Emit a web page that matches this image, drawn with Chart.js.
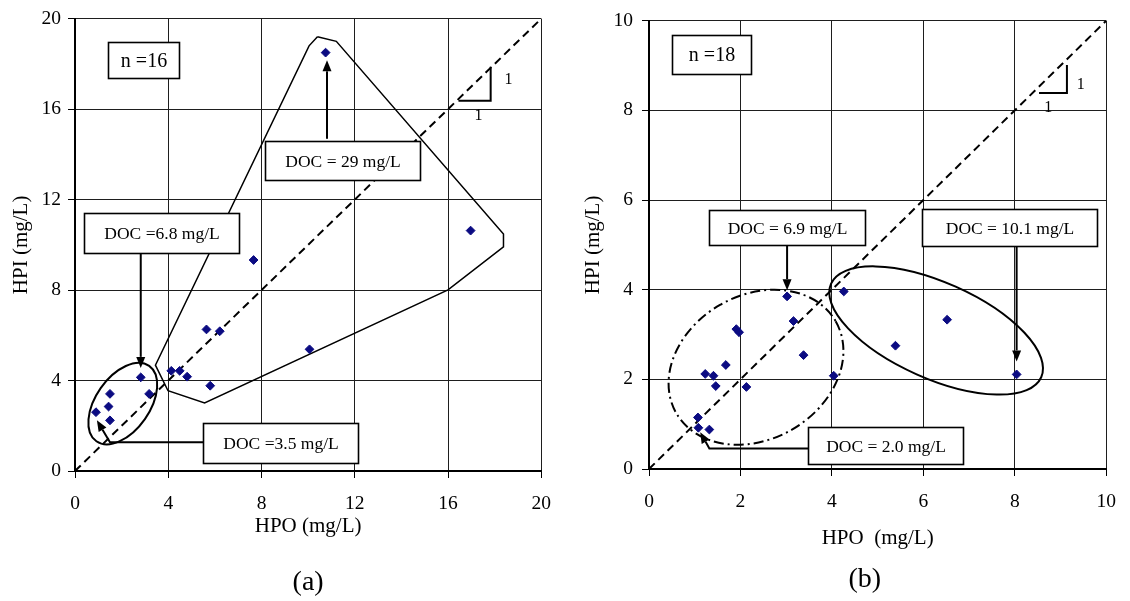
<!DOCTYPE html>
<html>
<head>
<meta charset="utf-8">
<title>HPI vs HPO</title>
<script src="https://cdn.jsdelivr.net/npm/chart.js@4.4.1/dist/chart.umd.min.js"></script>
<style>
  html, body { margin: 0; padding: 0; background: #fff; }
  .panel { position: absolute; top: 0; width: 565px; height: 601px; }
  #panelA { left: 0; }
  #panelB { left: 565px; }
</style>
</head>
<body>
<div class="panel" id="panelA"><canvas id="chartA"></canvas></div>
<div class="panel" id="panelB"><canvas id="chartB"></canvas></div>

<script>
const SERIF = "'Liberation Serif', 'Times New Roman', serif";
const NAVY = '#0b0b82';

// panel (a): 16 samples
const hpoA = [10.75, 16.97, 7.66, 10.06, 5.64, 6.21, 4.13, 4.49, 4.81, 5.80, 2.82, 3.18, 1.50, 1.44, 0.90, 1.50];
const hpiA = [18.50, 10.63, 9.33, 5.38, 6.26, 6.18, 4.43, 4.43, 4.17, 3.77, 4.14, 3.41, 3.41, 2.85, 2.60, 2.24];
const ticksA = [0, 4, 8, 12, 16, 20];

// envelope drawn round the high-DOC group in (a)
const envelopeHpoA = [10.40, 11.21, 18.38, 18.38, 16.00, 5.56, 3.99, 3.45, 10.04, 10.40];
const envelopeHpiA = [19.20, 19.00, 10.48, 9.91, 8.01, 3.01, 3.55, 4.68, 18.80, 19.20];

// panel (b): 18 samples
const hpoB = [3.02, 3.16, 1.91, 1.97, 3.38, 1.68, 1.23, 1.41, 1.46, 2.13, 4.04, 4.26, 1.07, 1.08, 1.32, 5.39, 6.52, 8.04];
const hpiB = [3.85, 3.30, 3.12, 3.05, 2.54, 2.32, 2.12, 2.08, 1.85, 1.83, 2.08, 3.96, 1.15, 0.92, 0.88, 2.75, 3.33, 2.11];
const ticksB = [0, 2, 4, 6, 8, 10];

// call-outs, arrows and ellipses (positions in axis units, ellipse radii in px)
const notesA = {
  boxes: [
    { text: 'n =16', x1: 1.41, x2: 4.44, y1: 18.95, y2: 17.37, size: 20 },
    { text: 'DOC = 29 mg/L', x1: 8.16, x2: 14.79, y1: 14.61, y2: 12.89, size: 17.5 },
    { text: 'DOC =6.8 mg/L', x1: 0.38, x2: 7.01, y1: 11.40, y2: 9.65, size: 17.5 },
    { text: 'DOC =3.5 mg/L', x1: 5.51, x2: 12.14, y1: 2.11, y2: 0.35, size: 17.5 }
  ],
  arrows: [
    [[10.81, 14.69], [10.81, 18.16]],
    [[2.82, 9.65], [2.82, 4.56]],
    [[5.51, 1.27], [1.50, 1.27], [0.94, 2.24]]
  ],
  ellipses: [
    { cx: 2.05, cy: 2.98, rx: 46, ry: 27, angle: -55, dash: [] }
  ],
  slope: { pts: [[16.45, 16.37], [17.83, 16.37], [17.83, 17.88]], labels: [[18.59, 17.28], [17.31, 15.70]] },
  caption: { text: '(a)', x: 10, py: 583 }
};

const notesB = {
  boxes: [
    { text: 'n =18', x1: 0.51, x2: 2.23, y1: 9.69, y2: 8.82, size: 20 },
    { text: 'DOC = 6.9 mg/L', x1: 1.32, x2: 4.73, y1: 5.77, y2: 4.98, size: 17.5 },
    { text: 'DOC = 10.1 mg/L', x1: 5.96, x2: 9.79, y1: 5.81, y2: 4.98, size: 17.5 },
    { text: 'DOC = 2.0 mg/L', x1: 3.48, x2: 6.88, y1: 0.93, y2: 0.11, size: 17.5 }
  ],
  arrows: [
    [[3.02, 4.98], [3.02, 3.99]],
    [[8.04, 4.98], [8.04, 2.40]],
    [[3.48, 0.46], [1.32, 0.46], [1.12, 0.82]]
  ],
  ellipses: [
    { cx: 2.34, cy: 2.27, rx: 92, ry: 72, angle: -30, dash: [10, 4, 2, 4] },
    { cx: 6.28, cy: 3.09, rx: 115, ry: 48, angle: 24, dash: [] }
  ],
  slope: { pts: [[8.53, 8.39], [9.14, 8.39], [9.14, 9.01]], labels: [[9.44, 8.57], [8.73, 8.05]] },
  caption: { text: '(b)', x: 4.72, py: 580 }
};

function drawArrow(ctx, pts) {
    const n = pts.length;
    const [tx, ty] = pts[n - 1];
    const [fx, fy] = pts[n - 2];
    const ang = Math.atan2(ty - fy, tx - fx);
    const headLen = 11, headHalf = 4.5;
    const bx = tx - Math.cos(ang) * headLen;
    const by = ty - Math.sin(ang) * headLen;

    ctx.beginPath();
    ctx.moveTo(pts[0][0], pts[0][1]);
    for (let i = 1; i < n - 1; i++) ctx.lineTo(pts[i][0], pts[i][1]);
    ctx.lineTo(bx, by);
    ctx.stroke();

    ctx.beginPath();
    ctx.moveTo(tx, ty);
    ctx.lineTo(bx + Math.sin(ang) * headHalf, by - Math.cos(ang) * headHalf);
    ctx.lineTo(bx - Math.sin(ang) * headHalf, by + Math.cos(ang) * headHalf);
    ctx.closePath();
    ctx.fill();
}

// Draws the ellipses, arrows, labelled boxes and the 1:1 slope marker on top of the data
function makeOverlay(notes) {
    return {
        id: 'overlay',
        afterDatasetsDraw(chart) {
            const ctx = chart.ctx;
            const px = v => chart.scales.x.getPixelForValue(v);
            const py = v => chart.scales.y.getPixelForValue(v);

            ctx.save();
            ctx.strokeStyle = '#000';
            ctx.fillStyle = '#000';
            ctx.lineWidth = 2;

            notes.ellipses.forEach(e => {
                ctx.setLineDash(e.dash);
                ctx.beginPath();
                ctx.ellipse(px(e.cx), py(e.cy), e.rx, e.ry, e.angle * Math.PI / 180, 0, Math.PI * 2);
                ctx.stroke();
            });
            ctx.setLineDash([]);

            // slope triangle
            const s = notes.slope;
            ctx.beginPath();
            s.pts.forEach((p, i) => {
                if (i === 0) ctx.moveTo(px(p[0]), py(p[1]));
                else ctx.lineTo(px(p[0]), py(p[1]));
            });
            ctx.stroke();
            ctx.font = '16px ' + SERIF;
            ctx.textAlign = 'center';
            ctx.textBaseline = 'middle';
            s.labels.forEach(l => ctx.fillText('1', px(l[0]), py(l[1])));

            notes.arrows.forEach(a => drawArrow(ctx, a.map(p => [px(p[0]), py(p[1])])));

            notes.boxes.forEach(b => {
                const x = Math.round(px(b.x1)) + 0.5, y = Math.round(py(b.y1)) + 0.5;
                const w = Math.round(px(b.x2) - px(b.x1)), h = Math.round(py(b.y2) - py(b.y1));
                ctx.fillStyle = '#fff';
                ctx.fillRect(x, y, w, h);
                ctx.lineWidth = 1.6;
                ctx.strokeRect(x, y, w, h);
                ctx.fillStyle = '#000';
                ctx.font = b.size + 'px ' + SERIF;
                ctx.fillText(b.text, x + w / 2, y + h / 2 + 1);
            });
            ctx.restore();
        },
        afterDraw(chart) {
            const ctx = chart.ctx;
            const c = notes.caption;
            ctx.save();
            ctx.fillStyle = '#000';
            ctx.font = '28px ' + SERIF;
            ctx.textAlign = 'center';
            ctx.textBaseline = 'middle';
            ctx.fillText(c.text, chart.scales.x.getPixelForValue(c.x), c.py);
            ctx.restore();
        }
    };
}

function makePanel(canvasId, hpo, hpi, ticks, envelope, notes, lay) {
    const max = ticks[ticks.length - 1];
    const datasets = [
        {
            data: hpo.map((v, i) => ({ x: v, y: hpi[i] })),
            pointStyle: 'rectRot',
            pointRadius: 4.4,
            backgroundColor: NAVY,
            borderColor: NAVY,
            borderWidth: 1,
            showLine: false
        },
        {
            // 1:1 line
            data: [{ x: 0, y: 0 }, { x: max, y: max }],
            showLine: true,
            borderColor: '#000',
            borderWidth: 2,
            borderDash: [8, 5],
            pointRadius: 0
        }
    ];
    if (envelope) {
        datasets.push({
            data: envelope.hpo.map((v, i) => ({ x: v, y: envelope.hpi[i] })),
            showLine: true,
            borderColor: '#000',
            borderWidth: 1.5,
            pointRadius: 0,
            tension: 0
        });
    }

    const gridOpts = { color: '#1e1e1e', lineWidth: 1, drawTicks: true, tickLength: 7, tickColor: '#000' };
    const tickFont = { family: SERIF, size: 19.5 };
    const titleFont = { family: SERIF, size: 21 };

    new Chart(document.getElementById(canvasId), {
        type: 'scatter',
        data: { datasets: datasets },
        options: {
            responsive: true,
            maintainAspectRatio: false,
            animation: false,
            layout: { padding: { top: 15, right: lay.padRight, bottom: 0, left: 0 } },
            plugins: {
                legend: { display: false },
                tooltip: { enabled: false }
            },
            scales: {
                x: {
                    type: 'linear',
                    min: 0,
                    max: max,
                    afterBuildTicks: sc => { sc.ticks = ticks.map(v => ({ value: v })); },
                    afterFit: sc => { sc.height = lay.xAxisHeight; },
                    grid: gridOpts,
                    border: { color: '#000', width: 2 },
                    ticks: { color: '#000', font: tickFont, padding: lay.xTickPad, maxRotation: 0 },
                    title: { display: true, text: lay.xTitle, color: '#000', font: titleFont, padding: { top: 0, bottom: lay.xTitlePad } }
                },
                y: {
                    type: 'linear',
                    min: 0,
                    max: max,
                    afterBuildTicks: sc => { sc.ticks = ticks.map(v => ({ value: v })); },
                    afterFit: sc => { sc.width = lay.yAxisWidth; },
                    grid: gridOpts,
                    border: { color: '#000', width: 2 },
                    ticks: { color: '#000', font: tickFont, padding: lay.yTickPad },
                    title: { display: true, text: 'HPI (mg/L)', color: '#000', font: titleFont, padding: { top: lay.yTitlePad, bottom: 0 } }
                }
            }
        },
        plugins: [makeOverlay(notes)]
    });
}

document.addEventListener('DOMContentLoaded', function () {
    makePanel('chartA', hpoA, hpiA, ticksA, { hpo: envelopeHpoA, hpi: envelopeHpiA }, notesA, {
        padRight: 22, xAxisHeight: 130, yAxisWidth: 75,
        xTickPad: 14, xTitlePad: 62.4, yTickPad: 7, yTitlePad: 8.4,
        xTitle: 'HPO (mg/L)'
    });
    makePanel('chartB', hpoB, hpiB, ticksB, null, notesB, {
        padRight: 19, xAxisHeight: 132, yAxisWidth: 84,
        xTickPad: 14, xTitlePad: 50.4, yTickPad: 9, yTitlePad: 15.4,
        xTitle: 'HPO  (mg/L)'
    });
});
</script>
</body>
</html>
